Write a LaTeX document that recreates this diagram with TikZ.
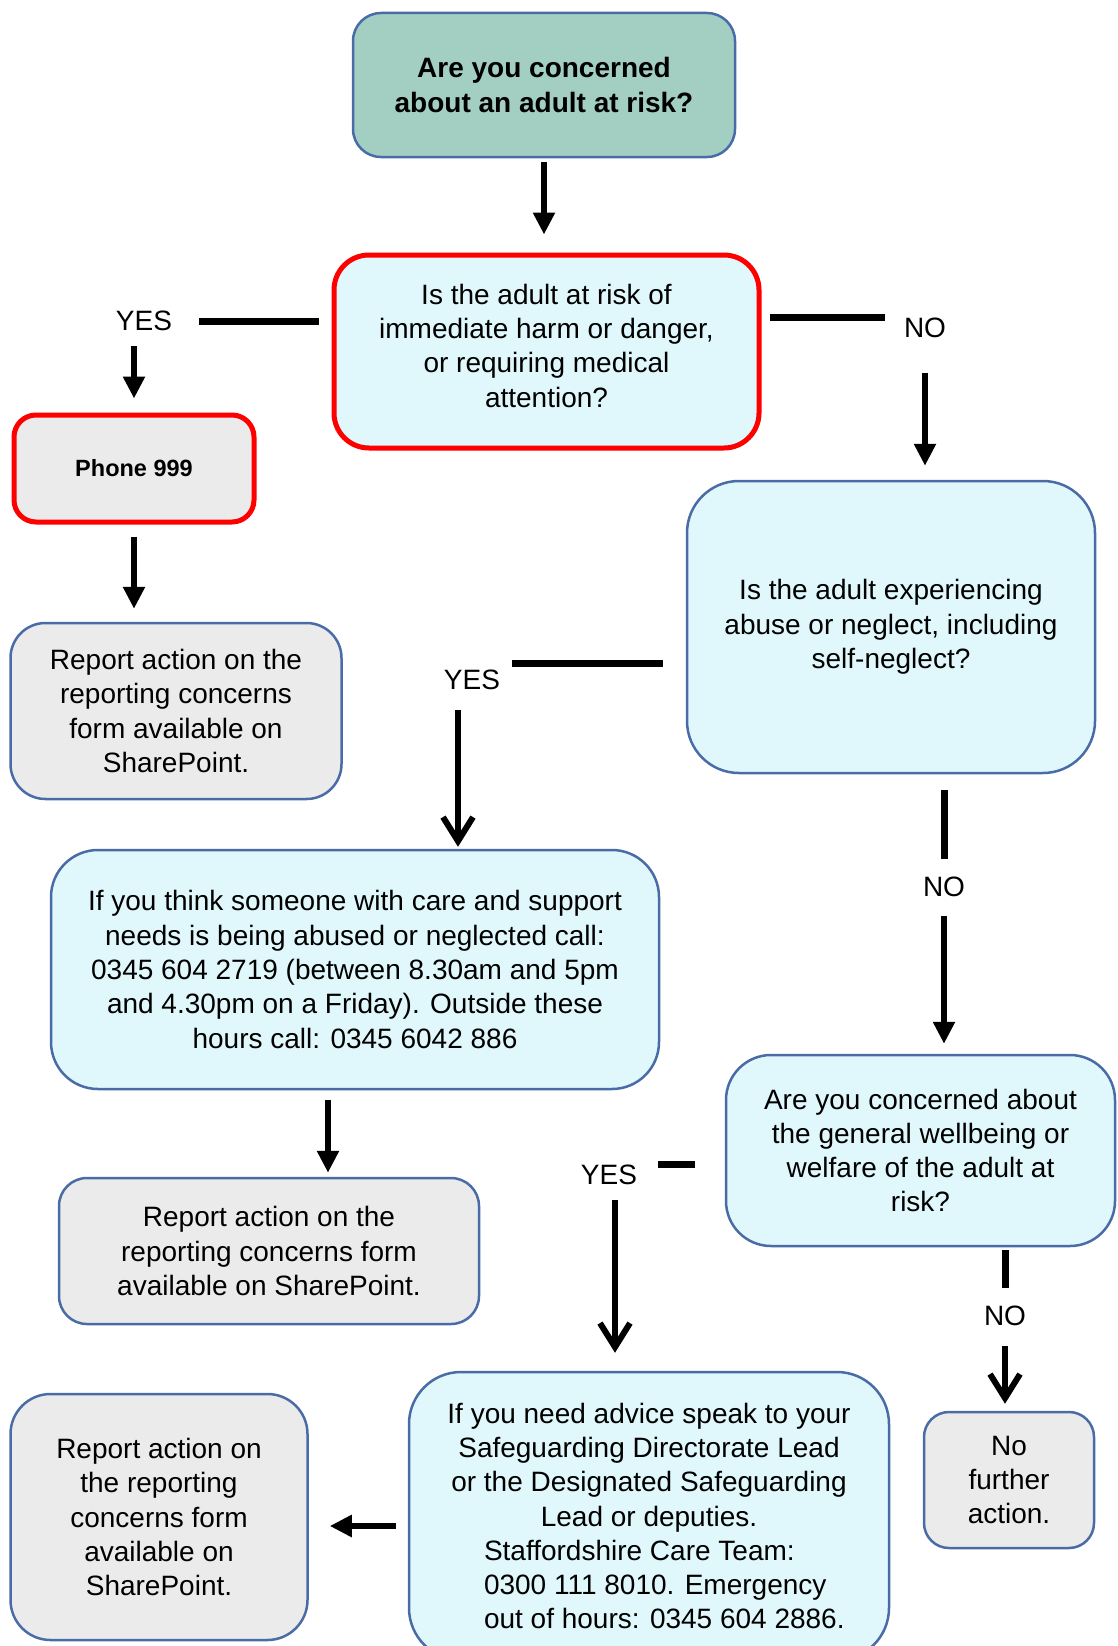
\documentclass[tikz,border=0pt]{standalone}
\usepackage{fontspec}
\setmainfont{Liberation Sans}
\usetikzlibrary{arrows.meta}
\definecolor{tealbox}{HTML}{A3CFC3}
\definecolor{cyanbox}{HTML}{E0F8FC}
\definecolor{greybox}{HTML}{EBEBEB}
\definecolor{boxline}{HTML}{4A6CA6}
\newcommand{\txt}{\fontsize{28}{34.3}\selectfont}
\begin{document}
\begin{tikzpicture}[x = 1pt, y = -1pt,
	box/.style = {draw = boxline, line width = 2.5pt, align = center, inner sep = 0pt, font = \txt},
	ask/.style = {box, fill = cyanbox},
	act/.style = {box, fill = greybox},
	urgent/.style = {draw = red, line width = 5pt},
	lbl/.style = {inner sep = 0pt, font = \txt},
	bar/.style = {line width = 7pt},
	arr/.style = {line width = 6pt, -{Triangle[length = 22pt, width = 21pt]}},
	arrv/.style = {line width = 6pt, -{Straight Barb[length = 24pt, width = 30pt]}}]
	\path[use as bounding box, clip] (0,0) rectangle (1117,1646);
	
	\node[box, fill = tealbox, minimum width = 382pt, minimum height = 144pt, rounded corners = 28pt, font = \txt\bfseries] (concern) at (544,85) {Are you concerned\\about an adult at risk?};
	\node[ask, urgent, minimum width = 425pt, minimum height = 193pt, rounded corners = 35pt] (immediate) at (546.5,351.5) {Is the adult at risk of\\immediate harm or danger,\\or requiring medical\\attention?\rule[-12pt]{0pt}{0pt}};
	\node[act, urgent, minimum width = 240pt, minimum height = 107pt, rounded corners = 22pt, font = \fontsize{23.5}{28}\selectfont\bfseries] (phone) at (134,468.5) {Phone 999};
	\node[act, minimum width = 331pt, minimum height = 176pt, rounded corners = 35pt] (report1) at (176,711) {Report action on the\\reporting concerns\\form available on\\SharePoint.};
	\node[ask, minimum width = 408pt, minimum height = 292pt, rounded corners = 52pt] (abuse) at (891,627) {Is the adult experiencing\\abuse or neglect, including\\self-neglect?};
	\node[ask, minimum width = 608pt, minimum height = 239pt, rounded corners = 47pt] (callteam) at (355,969.5) {If you think someone with care and support\\needs is being abused or neglected call:\\0345 604 2719 (between 8.30am and 5pm\\and 4.30pm on a Friday). Outside these\\hours call: 0345 6042 886};
	\node[act, minimum width = 420pt, minimum height = 146pt, rounded corners = 28pt] (report2) at (269,1251) {Report action on the\\reporting concerns form\\available on SharePoint.};
	\node[ask, minimum width = 389pt, minimum height = 191pt, rounded corners = 45pt] (wellbeing) at (920.5,1150.5) {Are you concerned about\\the general wellbeing or\\welfare of the adult at\\risk?};
	\node[ask, minimum width = 480pt, minimum height = 288pt, rounded corners = 52pt] (advice) at (649,1516) {If you need advice speak to your\\Safeguarding Directorate Lead\\or the Designated Safeguarding\\Lead or deputies.\\\makebox[330pt][l]{Staffordshire Care Team:}\\\makebox[330pt][l]{0300 111 8010. Emergency}\\\makebox[330pt][l]{out of hours: 0345 604 2886.}};
	\node[act, minimum width = 297pt, minimum height = 246pt, rounded corners = 40pt] (report3) at (159,1517) {Report action on\\the reporting\\concerns form\\available on\\SharePoint.};
	\node[act, minimum width = 170pt, minimum height = 136pt, rounded corners = 25pt] (nofurther) at (1009,1480) {No\\further\\action.};
	
	\node[lbl] (yes1) at (144,321) {YES};
	\node[lbl] (no1) at (925,327.5) {NO};
	\node[lbl] (yes2) at (472,680) {YES};
	\node[lbl] (no2) at (944,887) {NO};
	\node[lbl] (yes3) at (609,1175) {YES};
	\node[lbl] (no3) at (1005,1316) {NO};
	
	\draw[arr, shorten <= 4pt, shorten >= 18pt] (concern.south) -- (concern.south |- immediate.north);
	\draw[bar, shorten <= 27pt, shorten >= 13pt] (yes1.east) -- (yes1.east -| immediate.west);
	\draw[arr, shorten <= 15pt, shorten >= 14pt] (yes1.south -| phone.north) -- (phone.north);
	\draw[bar, shorten <= 19pt, shorten >= 8pt] (no1.north west) -- (no1.north west -| immediate.east);
	\draw[arr, shorten <= 35pt, shorten >= 14pt] (no1.south) -- (no1.south |- abuse.north);
	\draw[arr, shorten <= 12pt, shorten >= 13pt] (phone.south) -- (phone.south |- report1.north);
	\draw[bar, shorten <= 12pt, shorten >= 23pt] ([yshift = 6pt]yes2.north east) -- ([yshift = 6pt]yes2.north east -| abuse.west);
	\draw[arrv, shorten <= 20pt, shorten >= 2pt] ([xshift = -14pt]yes2.south) -- ([xshift = -14pt]yes2.south |- callteam.north);
	\draw[bar, shorten <= 18pt, shorten >= 16pt] (no2.north) -- (no2.north |- abuse.south);
	\draw[arr, shorten <= 19pt, shorten >= 10pt] (no2.south) -- (no2.south |- wellbeing.north);
	\draw[arr, shorten <= 10pt, shorten >= 4pt] ([xshift = -27pt]callteam.south) -- ([xshift = -27pt]callteam.south |- report2.north);
	\draw[bar, shorten <= 21pt, shorten >= 30pt] (yes3.north east) -- (yes3.north east -| wellbeing.west);
	\draw[arrv, shorten <= 15pt, shorten >= 18pt] ([xshift = 6pt]yes3.south) -- ([xshift = 6pt]yes3.south |- advice.north);
	\draw[bar, shorten <= 18pt, shorten >= 3pt] (no3.north) -- (no3.north |- wellbeing.south);
	\draw[arrv, shorten <= 20pt, shorten >= 7pt] (no3.south) -- (no3.south |- nofurther.north);
	\draw[arr, shorten <= 12pt, shorten >= 21pt] ([yshift = -10pt]advice.west) -- ([yshift = -10pt]advice.west -| report3.east);
\end{tikzpicture}
\end{document}
